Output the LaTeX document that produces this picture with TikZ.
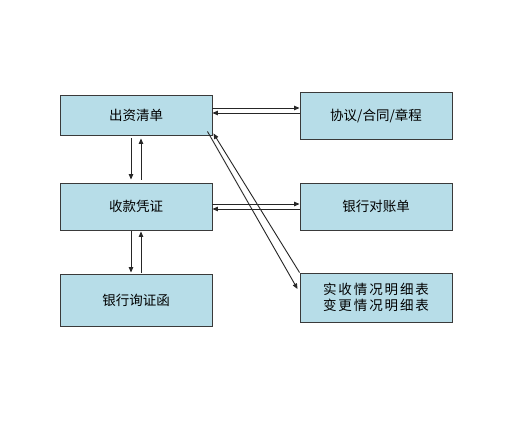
\documentclass[tikz,border=0pt]{standalone}
\usepackage{fontspec}
\setmainfont{Noto Sans CJK SC}
\usetikzlibrary{arrows.meta}
\definecolor{boxfill}{HTML}{B7DDE8}
\definecolor{boxline}{HTML}{3A3A3A}
\begin{document}
\begin{tikzpicture}[x=1pt,y=-1pt,
  box/.style={draw=boxline,fill=boxfill,line width=0.9pt,minimum width=152pt,inner sep=0pt,
    font=\fontsize{13.5}{16}\selectfont,align=center},
  arr/.style={draw=black!85,line width=0.9pt,-{Triangle[length=5.5pt,width=4.5pt]}}]
\useasboundingbox[fill=white] (0,0) rectangle (519,423);
\node[box,minimum height=40pt] (a) at (136,115) {出资清单};
\node[box,minimum height=47pt] (b) at (136,206.5) {收款凭证};
\node[box,minimum height=52pt] (c) at (136,300) {银行询证函};
\node[box,minimum height=47pt] (A) at (376,115.5) {协议/合同/章程};
\node[box,minimum height=47pt] (B) at (376,206.5) {银行对账单};
\node[box,minimum height=49pt] (C) at (376,297.5) {\addfontfeature{LetterSpace=14}实收情况明细表\\\addfontfeature{LetterSpace=14}变更情况明细表};
% horizontal
\draw[arr] ([yshift=7pt]a.east) -- ([yshift=7pt]a.east -| A.west);
\draw[arr] ([yshift=2pt]a.east -| A.west) -- ([yshift=2pt]a.east);
\draw[arr] ([yshift=2.5pt]b.east) -- ([yshift=2.5pt]b.east -| B.west);
\draw[arr] ([yshift=-2.5pt]b.east -| B.west) -- ([yshift=-2.5pt]b.east);
% vertical
\draw[arr,shorten <=3pt,shorten >=3pt] ([xshift=-5pt]a.south) -- ([xshift=-5pt]a.south |- b.north);
\draw[arr,shorten <=3pt,shorten >=3pt] ([xshift=5pt]a.south |- b.north) -- ([xshift=5pt]a.south);
\draw[arr,shorten <=1pt,shorten >=1pt] ([xshift=-5pt]b.south) -- ([xshift=-5pt]b.south |- c.north);
\draw[arr,shorten <=1pt,shorten >=1pt] ([xshift=5pt]b.south |- c.north) -- ([xshift=5pt]b.south);
% diagonal
\draw[arr] ([shift={(-5pt,4pt)}]a.south east) -- ([shift={(-2pt,8.5pt)}]C.west);
\draw[arr] (C.north west) -- ([shift={(1pt,2pt)}]a.south east);
\end{tikzpicture}
\end{document}
